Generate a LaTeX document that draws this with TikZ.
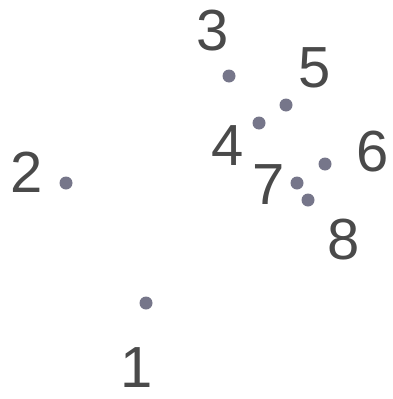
\documentclass[tikz,border=0pt]{standalone}
\usepackage{fontspec}
\setmainfont{Liberation Sans}
\definecolor{dotcol}{HTML}{76768A}
\definecolor{labcol}{HTML}{4A4A4A}
\begin{document}
\begin{tikzpicture}[x=1pt,y=-1pt,
  dotnode/.style={circle,fill=dotcol,draw=none,minimum size=13pt,inner sep=0pt},
  labnode/.style={inner sep=0pt,text=labcol,font=\fontsize{58}{58}\selectfont}]
\useasboundingbox (0,0) rectangle (392,399);
\node[labnode] (l1) at (137,368) {1};
\node[labnode] (l2) at (27,172) {2};
\node[labnode] (l3) at (213,31) {3};
\node[labnode] (l4) at (228,146) {4};
\node[labnode] (l5) at (315,68) {5};
\node[labnode] (l6) at (373,152) {6};
\node[labnode] (l7) at (269,185) {7};
\node[labnode] (l8) at (344,240) {8};
\node[dotnode] (d1) at (146,303) {};
\node[dotnode] (d2) at (66,183) {};
\node[dotnode] (d3) at (229,76) {};
\node[dotnode] (d4) at (259,123) {};
\node[dotnode] (d5) at (286,105) {};
\node[dotnode] (d6) at (325,164) {};
\node[dotnode] (d7) at (297,183) {};
\node[dotnode] (d8) at (308,200) {};
\end{tikzpicture}
\end{document}
